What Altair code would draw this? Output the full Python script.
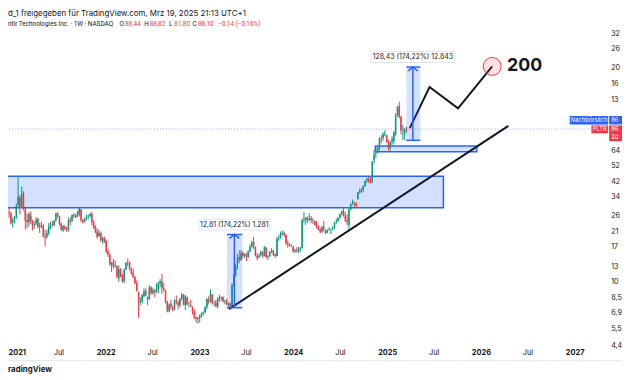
import altair as alt
import pandas as pd

GREEN = "#089981"
RED = "#F23645"
BLUE = "#2962FF"
INK = "#131722"
FONT = "Inter"

# ---- weekly candles (open, high, low, close), one row per week starting Monday 2020-11-16
first_week = "2020-11-16"
candles_2020 = [
    (17.9, 24.5, 17.5, 23.9), (24.0, 33.5, 23.5, 27.9), (27.5, 29.0, 23.8, 25.5),
    (25.5, 27.0, 22.6, 24.2), (24.5, 29.2, 24.0, 27.6), (27.3, 29.0, 25.4, 27.0),
    (26.9, 27.5, 23.1, 23.5),
]
candles_2021 = [
    (23.9, 25.5, 22.2, 24.6), (24.8, 26.0, 23.5, 25.2), (25.5, 31.0, 25.0, 29.9), (30.5, 45.0, 29.5, 34.0),
    (33.5, 34.5, 26.5, 29.0), (29.5, 39.0, 29.0, 35.3), (35.3, 36.5, 28.0, 28.6), (28.4, 29.5, 21.6, 24.4),
    (24.6, 27.0, 21.9, 23.9), (23.9, 27.3, 22.5, 26.6), (26.3, 27.7, 23.3, 24.0), (24.0, 24.6, 21.3, 22.8),
    (23.0, 24.0, 21.8, 23.3), (23.5, 25.5, 22.8, 24.8), (25.0, 25.5, 21.9, 22.4), (22.4, 23.6, 20.6, 22.9),
    (23.0, 24.0, 22.0, 22.8), (22.8, 23.2, 19.4, 19.6), (19.6, 21.5, 17.1, 19.3), (19.5, 21.5, 19.0, 20.6),
    (20.6, 23.6, 20.0, 22.4), (22.5, 24.0, 21.6, 23.0), (23.1, 24.4, 22.4, 23.0), (23.0, 24.6, 22.5, 24.3),
    (24.5, 27.2, 24.0, 26.9), (27.0, 27.5, 25.3, 26.0), (26.0, 26.1, 22.8, 23.3), (23.4, 23.8, 21.2, 21.6),
    (21.4, 23.0, 20.8, 22.6), (22.5, 22.9, 21.4, 21.8), (21.9, 22.4, 20.9, 21.4), (21.6, 25.5, 21.0, 24.5),
    (24.5, 25.5, 22.9, 24.0), (24.3, 26.6, 24.0, 26.4), (26.5, 27.1, 25.3, 26.1), (26.2, 26.6, 25.2, 25.6),
    (25.8, 27.9, 25.6, 27.0), (26.5, 29.3, 25.8, 28.9), (28.5, 28.6, 23.9, 24.5), (24.5, 25.0, 23.4, 23.9),
    (24.0, 25.5, 23.8, 25.0), (25.2, 26.5, 24.5, 25.6), (25.8, 26.5, 24.8, 25.9), (26.0, 27.2, 25.5, 26.6),
    (26.8, 27.5, 22.8, 23.9), (24.0, 24.5, 21.8, 22.0), (22.2, 22.9, 20.5, 20.8), (21.0, 22.0, 19.0, 19.5),
    (19.8, 21.5, 19.5, 20.6), (20.5, 21.0, 18.2, 18.6), (18.5, 19.5, 17.8, 19.3), (19.3, 19.6, 18.0, 18.2),
]
candles_2022 = [
    (18.4, 18.8, 15.6, 16.0), (16.0, 16.6, 14.8, 15.3), (15.2, 15.5, 13.1, 13.4), (13.2, 13.8, 12.0, 13.7),
    (13.8, 14.4, 12.6, 13.0), (13.0, 14.1, 12.8, 13.2), (13.0, 13.2, 11.0, 11.3), (11.0, 13.2, 10.5, 12.5),
    (12.4, 12.7, 11.2, 11.4), (11.5, 11.7, 10.4, 10.5), (10.6, 12.6, 10.3, 12.4), (12.5, 13.8, 12.3, 13.6),
    (13.8, 14.5, 13.0, 13.7), (13.7, 13.9, 12.3, 12.5), (12.4, 12.8, 11.6, 11.8), (11.9, 12.6, 11.1, 11.2),
    (11.2, 11.4, 10.2, 10.3), (10.3, 10.7, 9.2, 9.3), (9.0, 9.2, 6.4, 8.0), (7.9, 8.5, 7.6, 8.1),
    (8.0, 8.9, 7.8, 8.7), (8.6, 9.6, 8.5, 9.2), (9.3, 9.6, 8.6, 8.7), (8.5, 8.6, 7.6, 8.2),
    (8.3, 10.0, 8.2, 9.7), (9.7, 9.9, 8.8, 9.0), (9.0, 9.7, 8.8, 9.4), (9.3, 9.5, 8.5, 9.1),
    (9.2, 10.3, 9.0, 9.6), (9.5, 10.5, 9.0, 10.3), (10.3, 10.9, 9.8, 10.6), (10.6, 11.7, 8.9, 9.6),
    (9.6, 10.3, 9.2, 9.4), (9.3, 9.4, 7.8, 8.0), (8.0, 8.1, 6.9, 7.0), (7.0, 7.8, 6.9, 7.7),
    (7.8, 8.2, 7.2, 7.5), (7.4, 7.6, 7.0, 7.2), (7.2, 8.3, 7.1, 8.1), (8.1, 8.7, 7.7, 7.9),
    (7.9, 8.1, 7.2, 7.6), (7.6, 8.4, 7.4, 8.3), (8.3, 9.0, 8.1, 8.8), (8.8, 8.9, 7.6, 7.7),
    (7.6, 8.8, 7.1, 8.6), (8.5, 8.6, 7.6, 7.7), (7.6, 8.0, 7.4, 7.6), (7.6, 8.2, 7.4, 7.5),
    (7.4, 7.5, 6.7, 6.9), (6.9, 7.2, 6.3, 6.4), (6.4, 6.5, 6.0, 6.3), (6.3, 6.5, 5.9, 6.4),
]
candles_2023 = [
    (6.4, 6.7, 6.0, 6.6), (6.6, 6.9, 6.4, 6.8), (6.8, 7.0, 6.6, 6.9), (6.9, 7.5, 6.8, 7.4),
    (7.4, 8.4, 7.2, 8.3), (8.2, 8.6, 7.7, 8.0), (8.0, 9.5, 7.9, 8.9), (8.8, 8.9, 7.7, 7.8),
    (7.9, 8.1, 7.5, 7.9), (7.9, 8.2, 7.4, 7.5), (7.5, 8.5, 7.3, 8.4), (8.4, 8.8, 8.0, 8.4),
    (8.4, 8.6, 8.1, 8.5), (8.5, 8.6, 7.9, 8.0), (8.0, 8.2, 7.7, 8.1), (8.1, 8.3, 7.6, 7.7),
    (7.7, 7.9, 7.35, 7.8), (7.8, 7.9, 7.4, 7.5), (7.5, 10.3, 7.4, 10.1), (10.2, 11.7, 9.9, 11.6),
    (11.6, 13.4, 11.3, 13.2), (13.3, 15.4, 12.5, 14.6), (14.8, 16.2, 13.6, 14.2), (14.2, 16.3, 14.0, 15.6),
    (15.6, 16.0, 14.5, 15.0), (15.0, 15.6, 14.6, 15.3), (15.3, 15.7, 14.0, 14.8), (14.8, 16.2, 14.6, 16.0),
    (16.0, 17.6, 15.8, 17.0), (17.0, 18.5, 16.8, 18.1), (18.2, 19.5, 16.5, 16.9), (16.9, 17.1, 14.9, 15.1),
    (15.0, 15.6, 14.1, 14.6), (14.8, 15.5, 14.5, 15.1), (15.2, 16.2, 14.9, 15.8), (15.8, 16.0, 14.7, 15.0),
    (15.0, 17.2, 14.9, 16.9), (16.8, 17.0, 14.5, 14.8), (14.8, 15.2, 14.2, 15.0), (15.0, 16.0, 14.8, 15.9),
    (15.9, 16.7, 15.6, 16.2), (16.2, 16.3, 15.0, 15.2), (15.2, 15.6, 14.6, 15.0), (15.0, 19.5, 14.9, 19.0),
    (19.0, 20.0, 18.5, 19.3), (19.5, 21.0, 19.0, 20.4), (20.3, 21.3, 20.0, 20.6), (20.6, 21.0, 19.5, 20.0),
    (20.0, 20.2, 17.5, 17.8), (17.8, 18.5, 16.8, 17.5), (17.5, 17.9, 17.0, 17.3), (17.3, 17.6, 17.0, 17.2),
]
candles_2024 = [
    (17.0, 17.2, 15.7, 16.0), (16.0, 16.5, 15.6, 16.2), (16.2, 16.9, 15.7, 16.0), (16.0, 17.0, 15.6, 16.6),
    (16.6, 17.0, 15.9, 16.8), (16.8, 25.1, 16.6, 24.6), (24.8, 27.5, 23.7, 25.0), (24.5, 25.7, 23.0, 25.4),
    (25.4, 25.9, 23.7, 24.6), (24.6, 27.0, 24.2, 25.0), (25.2, 26.0, 23.6, 24.6), (24.4, 25.3, 23.3, 24.5),
    (24.2, 24.5, 23.0, 23.0), (23.1, 24.3, 21.9, 22.4), (22.4, 23.0, 21.3, 21.5), (21.6, 22.0, 20.5, 21.0),
    (21.0, 22.6, 20.5, 22.4), (22.5, 24.3, 21.0, 21.7), (21.3, 21.6, 20.3, 20.5), (20.6, 21.7, 20.6, 21.4),
    (21.5, 22.3, 21.2, 21.7), (21.7, 21.9, 20.3, 21.7), (21.8, 22.6, 21.3, 22.1), (22.2, 24.0, 21.8, 23.6),
    (23.8, 25.0, 23.4, 24.2), (24.3, 25.6, 24.0, 25.3), (25.4, 27.0, 25.1, 26.6), (26.6, 28.0, 26.2, 27.8),
    (28.0, 28.9, 25.8, 26.1), (26.3, 27.5, 23.9, 24.4), (24.5, 26.6, 22.9, 24.0), (22.9, 29.0, 21.2, 28.3),
    (28.4, 31.0, 28.1, 30.7), (31.0, 32.6, 30.3, 31.4), (31.3, 31.9, 29.5, 31.0), (30.9, 31.4, 28.9, 30.0),
    (32.9, 36.2, 32.5, 36.0), (36.2, 38.0, 35.4, 36.9), (37.0, 38.3, 35.6, 37.2), (37.3, 39.7, 36.2, 39.2),
    (39.3, 42.5, 38.8, 42.1), (42.3, 43.9, 40.9, 43.5), (43.4, 44.8, 41.0, 41.9), (42.0, 44.3, 40.6, 41.6),
    (41.5, 55.5, 41.0, 55.0), (56.0, 65.0, 53.7, 60.6), (61.0, 66.0, 58.0, 61.4), (62.5, 67.0, 61.5, 66.9),
    (67.0, 76.7, 64.0, 76.0), (75.5, 79.0, 70.7, 75.0), (76.0, 82.4, 72.9, 80.4), (80.0, 84.8, 78.0, 81.0),
    (79.0, 79.5, 71.5, 71.8),
]
candles_2025 = [
    (72.0, 74.0, 64.0, 66.0), (66.0, 72.5, 63.4, 71.8), (72.0, 78.0, 69.0, 74.7), (73.0, 84.0, 70.0, 82.5),
    (80.0, 107.0, 78.5, 103.8), (104.0, 118.0, 102.0, 117.0), (118.0, 125.4, 100.0, 101.3),
    (102.0, 103.0, 80.0, 84.8), (84.0, 91.0, 74.0, 84.9), (80.0, 87.0, 73.8, 86.24),
    (88.44, 88.82, 81.80, 86.10),
]

# ---- axes
x_tick_months = [(2021, 1), (2021, 7), (2022, 1), (2022, 7), (2023, 1), (2023, 7), (2024, 1),
                 (2024, 7), (2025, 1), (2025, 7), (2026, 1), (2026, 7), (2027, 1)]
y_ticks = [4.4, 5.5, 6.9, 8.5, 10.6, 13, 17, 21, 26, 34, 42, 52, 64, 130, 160, 200, 260, 320]

# ---- drawings
zone_start = ["2020-11-18", "2024-11-16"]
zone_end = ["2025-08-08", "2025-12-16"]
zone_top = [44.97, 68.2]
zone_bottom = [29.1, 63.0]

trend_dates = ["2023-04-26", "2026-04-18"]
trend_prices = [7.21, 89.9]

path_dates = ["2025-03-30", "2025-06-15", "2025-10-04", "2026-02-14"]
path_prices = [87.2, 153.5, 114.4, 204.0]

target_date = ["2026-02-14"]
target_price = [204.0]
target_text = ["200"]

measure_start = ["2023-04-18", "2025-03-17"]
measure_mid = ["2023-05-17", "2025-04-11"]
measure_end = ["2023-06-17", "2025-05-10"]
measure_low = [7.353, 73.72]
measure_high = [20.16, 202.15]
measure_text = ["12,81 (174,22%) 1.281", "128,43 (174,22%) 12.843"]
measure_label_price = [23.1, 232.0]

header_line1 = "d_1 freigegeben für TradingView.com, Mrz 19, 2025 21:13 UTC+1"
header_title = "ntir Technologies Inc. · 1W · NASDAQ"
header_ohlc = [("O", "88,44"), ("H", "88,82"), ("L", "81,80"), ("C", "86,10")]
header_change = "−0,14 (−0,16%)"
footer_logo = "radingView"
badge_after = ["Nachbörslich", "86"]
badge_last = ["PLTR", "86", "2d"]

# ---------------------------------------------------------------------------
rows = candles_2020 + candles_2021 + candles_2022 + candles_2023 + candles_2024 + candles_2025
candles = pd.DataFrame(rows, columns=["open", "high", "low", "close"])
candles["date"] = pd.date_range(first_week, periods=len(candles), freq="W-MON")

zones = pd.DataFrame({"start": pd.to_datetime(zone_start), "end": pd.to_datetime(zone_end),
                      "top": zone_top, "bottom": zone_bottom})
trend = pd.DataFrame({"date": pd.to_datetime(trend_dates), "price": trend_prices})
path = pd.DataFrame({"date": pd.to_datetime(path_dates), "price": path_prices})
target = pd.DataFrame({"date": pd.to_datetime(target_date), "price": target_price, "label": target_text})
measure = pd.DataFrame({"start": pd.to_datetime(measure_start), "mid": pd.to_datetime(measure_mid),
                        "end": pd.to_datetime(measure_end), "low": measure_low, "high": measure_high,
                        "text": measure_text, "lp": measure_label_price})
last = candles.tail(1)
one = pd.DataFrame({"k": [0]})

x_scale = alt.Scale(domain=[alt.DateTime(year=2020, month=12, date=16, hours=15),
                            alt.DateTime(year=2027, month=5, date=11, hours=14)])
y_scale = alt.Scale(type="log", domain=[4.2245, 441.0], nice=False)

first_year_test = "year(datum.value) == 2021 && month(datum.value) == 0"
x_axis = alt.Axis(
    values=[alt.DateTime(year=y, month=m, date=1) for y, m in x_tick_months],
    labelExpr="month(datum.value) == 0 ? timeFormat(datum.value, '%Y') : 'Jul'",
    labelFontWeight={"condition": {"test": "month(datum.value) == 0", "value": "bold"}, "value": "normal"},
    labelAlign={"condition": {"test": first_year_test, "value": "left"}, "value": "center"},
    labelOffset={"condition": {"test": first_year_test, "value": -4}, "value": 0},
    grid=False, ticks=False, domain=False, labelFontSize=7.5, labelColor=INK, labelFont=FONT,
    labelBaseline="middle", labelPadding=5, labelOverlap=False, labelFlush=False, title=None)
# the price scale is cut by the screenshot's right edge: show the visible leading characters
y_axis = alt.Axis(
    orient="right", values=y_ticks,
    labelExpr="substring(replace(format(datum.value, '.2f'), '.', ','), 0, datum.value >= 10 ? 2 : 3)",
    grid=False, ticks=False, domain=False, labelFontSize=7.3, labelColor=INK, labelFont=FONT,
    labelAlign="left", labelBaseline="middle", labelPadding=2.5, labelOverlap=False, labelFlush=False,
    title=None)


def X(field):
    return alt.X(field, type="temporal", scale=x_scale, axis=x_axis)


def Y(field):
    return alt.Y(field, type="quantitative", scale=y_scale, axis=y_axis)


layers = []

# zones
layers.append(alt.Chart(zones).mark_rect(fill=BLUE, fillOpacity=0.2, stroke=BLUE, strokeWidth=1.5, clip=True)
              .encode(x=X("start:T"), x2="end:T", y=Y("bottom:Q"), y2="top:Q"))
# last price dotted line
layers.append(alt.Chart(last).mark_rule(color=BLUE, strokeWidth=1, strokeDash=[1, 2], opacity=0.55)
              .encode(y=Y("close:Q")))

# candles
col = alt.condition("datum.close >= datum.open", alt.value(GREEN), alt.value(RED))
base = alt.Chart(candles)
layers.append(base.mark_rule(strokeWidth=1, clip=True).encode(
    x=X("date:T"), y=Y("low:Q"), y2="high:Q", color=col))
layers.append(base.mark_rule(strokeWidth=1.5, clip=True).encode(
    x=X("date:T"), y=Y("open:Q"), y2="close:Q", color=col))

# trend line and projected path
layers.append(alt.Chart(trend).mark_line(color=INK, strokeWidth=2, clip=True)
              .encode(x=X("date:T"), y=Y("price:Q")))
layers.append(alt.Chart(path).mark_line(color=INK, strokeWidth=2, clip=True)
              .encode(x=X("date:T"), y=Y("price:Q")))

# price range tools
mbase = alt.Chart(measure)
layers.append(mbase.mark_rect(fill=BLUE, fillOpacity=0.2)
              .encode(x=X("start:T"), x2="end:T", y=Y("low:Q"), y2="high:Q"))
layers.append(mbase.mark_rule(color=BLUE, strokeWidth=1.5).encode(x=X("start:T"), x2="end:T", y=Y("low:Q")))
layers.append(mbase.mark_rule(color=BLUE, strokeWidth=1.5).encode(x=X("start:T"), x2="end:T", y=Y("high:Q")))
layers.append(mbase.mark_rule(color=BLUE, strokeWidth=1.5).encode(x=X("mid:T"), y=Y("low:Q"), y2="high:Q"))
layers.append(mbase.mark_point(shape="M-1,0.8L0,0L1,0.8", size=100, filled=False, stroke=BLUE,
                               strokeWidth=1.5, opacity=1).encode(x=X("mid:T"), y=Y("high:Q")))
box_shapes = ["M-1,-0.153L1,-0.153L1,0.153L-1,0.153Z", "M-1,-0.129L1,-0.129L1,0.129L-1,0.129Z"]
box_sizes = [72 * 72, 85 * 85]
for i in range(len(measure)):
    layers.append(alt.Chart(measure.iloc[[i]]).mark_point(
        shape=box_shapes[i], size=box_sizes[i], filled=True, fill="white", stroke="#dfe2ea",
        strokeWidth=1, opacity=1).encode(x=X("mid:T"), y=Y("lp:Q")))
layers.append(mbase.mark_text(fontSize=7, color=INK, font=FONT, baseline="middle", align="center")
              .encode(x=X("mid:T"), y=Y("lp:Q"), text="text:N"))

# target circle
tbase = alt.Chart(target)
layers.append(tbase.mark_point(shape="circle", size=330, filled=True, fill=RED, fillOpacity=0.15,
                               stroke=RED, strokeWidth=1, opacity=1).encode(x=X("date:T"), y=Y("price:Q")))
layers.append(tbase.mark_text(dx=15, align="left", baseline="middle", fontSize=18, fontWeight="bold",
                              color=INK, font=FONT).encode(x=X("date:T"), y=Y("price:Q"), text="label:N"))


# chrome: badges, header, footer
def label(txt, x, y, size, color=INK, align="left", weight="normal", font=FONT):
    return alt.Chart(one).mark_text(text=txt, align=align, baseline="middle", fontSize=size, color=color,
                                    font=font, fontWeight=weight).encode(x=alt.value(x), y=alt.value(y))


def box(x1, x2, y1, y2, color):
    return alt.Chart(one).mark_rect(color=color).encode(
        x=alt.value(x1), x2=alt.value(x2), y=alt.value(y1), y2=alt.value(y2))


HS = 6.5  # header line 2 font size
layers += [
    box(569, 608, 107, 115.5, BLUE), label(badge_after[0], 588.5, 111.3, 6, "white", "center"),
    box(609, 640, 107, 115.5, BLUE), label(badge_after[1], 611, 111.3, 6, "white"),
    box(591, 608, 116.5, 124.5, RED), label(badge_last[0], 599.5, 120.5, 6, "white", "center"),
    box(609, 640, 116.5, 132.5, RED), label(badge_last[1], 611, 120.3, 6, "white"),
    label(badge_last[2], 611, 127.8, 6, "white"),
    label(header_line1, 0, 4, 8),
    label(header_title, 0, 14, HS, INK, font="Roboto"),
    label(header_change, 213, 14, HS, RED, font="Roboto"),
    box(0, 622, 354.5, 355.5, "#e0e3eb"),
    label(footer_logo, 0, 364, 8, INK, "left", "bold"),
]
ohlc_x = [113, 138, 163, 187]
for (letter, val), xx in zip(header_ohlc, ohlc_x):
    layers.append(label(letter, xx, 14, HS, INK, font="Roboto"))
    layers.append(label(val, xx + 5.5, 14, HS, RED, font="Roboto"))

chart = (alt.layer(*layers)
         .properties(width=608, height=342, background="white",
                     padding={"left": 0, "top": 0, "right": 14, "bottom": 30},
                     autosize=alt.AutoSizeParams(type="none"))
         .configure_view(stroke=None))

chart.save("out.html", embed_options={"renderer": "svg", "actions": False})
